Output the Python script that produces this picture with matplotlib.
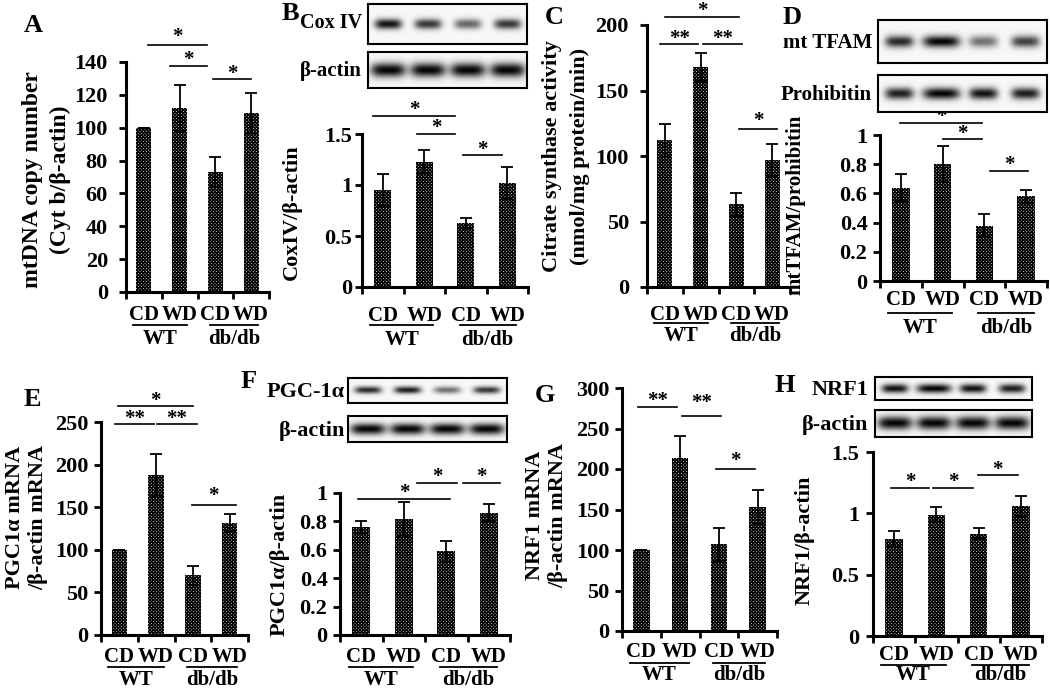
import numpy as np
import matplotlib
matplotlib.use("Agg")
import matplotlib.pyplot as plt
from matplotlib import transforms

plt.rcParams['font.family'] = ['Liberation Serif', 'DejaVu Serif']
plt.rcParams['font.weight'] = 'bold'
plt.rcParams['hatch.linewidth'] = 1.0
plt.rcParams['hatch.color'] = 'black'

W, H = 1050, 689

# ---------------- data ----------------
diet = ['CD', 'WD', 'CD', 'WD']
strain = ['WT', 'db/db']

A_vals = [100, 112, 73, 109]
A_err = [0, 14, 9, 12]
A_ticks = [0, 20, 40, 60, 80, 100, 120, 140]
A_sig = [(0.62, 2.27, 150.3, '*', 2), (1.22, 2.27, 137.5, '*', 0), (2.43, 3.5, 129.5, '*', 0)]

B_vals = [0.95, 1.23, 0.63, 1.02]
B_err = [0.16, 0.11, 0.05, 0.16]
B_ticks = [0, 0.5, 1, 1.5]
B_sig = [(0.27, 2.25, 1.68, '*', 0), (1.33, 2.25, 1.50, '*', 0), (2.44, 3.38, 1.29, '*', 0)]

C_vals = [112, 168, 63, 97]
C_err = [12.5, 10.5, 8.5, 12]
C_ticks = [0, 50, 100, 150, 200]
C_sig = [(0.51, 2.56, 206.4, '*', 0), (0.37, 1.43, 185.3, '**', 0),
         (1.57, 2.66, 185.3, '**', 0), (2.56, 3.65, 120.8, '*', 2)]

D_vals = [0.64, 0.80, 0.38, 0.58]
D_err = [0.095, 0.125, 0.08, 0.045]
D_ticks = [0, 0.2, 0.4, 0.6, 0.8, 1]
D_sig = [(0.48, 2.45, 1.084, '*', 0), (1.51, 2.45, 0.97, '*', 0), (2.64, 3.55, 0.755, '*', 0)]

E_vals = [100, 188, 70, 132]
E_err = [0, 25, 11, 10]
E_ticks = [0, 50, 100, 150, 200, 250]
E_sig = [(0.46, 2.5, 268.4, '*', 0), (0.38, 1.44, 247.3, '**', 0),
         (1.52, 2.6, 247.3, '**', 0), (2.47, 3.67, 152.4, '*', 3)]

F_vals = [0.76, 0.815, 0.59, 0.86]
F_err = [0.045, 0.12, 0.075, 0.06]
F_ticks = [0, 0.2, 0.4, 0.6, 0.8, 1]
F_sig = [(0.42, 2.59, 0.96, '*', 0), (1.81, 2.75, 1.07, '*', 0), (2.89, 3.76, 1.07, '*', 0)]

G_vals = [100, 214, 107, 153]
G_err = [0, 27, 20, 21]
G_ticks = [0, 50, 100, 150, 200, 250, 300]
G_sig = [(0.42, 1.42, 277, '**', 0), (1.55, 2.55, 266, '**', 7), (2.43, 3.43, 199.4, '*', 3)]

H_vals = [0.79, 0.99, 0.835, 1.06]
H_err = [0.065, 0.06, 0.045, 0.08]
H_ticks = [0, 0.5, 1, 1.5]
H_sig = [(0.43, 1.33, 1.21, '*', 0), (1.42, 2.37, 1.21, '*', 0), (2.48, 3.43, 1.31, '*', 0)]

# western blot band intensities (per lane)
B_blots = [("Cox IV", [0.95, 0.8, 0.6, 0.8], 0.13), ("β-actin", [1.0, 1.0, 1.0, 1.0], 0.2)]
D_blots = [("mt TFAM", [0.85, 1.0, 0.55, 0.75], 0.14), ("Prohibitin", [0.9, 1.0, 0.95, 0.9], 0.16)]
F_blots = [("PGC-1α", [0.85, 0.9, 0.55, 0.8], 0.14), ("β-actin", [1.0, 1.0, 1.0, 1.0], 0.22)]
H_blots = [("NRF1", [0.95, 1.0, 0.95, 0.9], 0.2), ("β-actin", [1.0, 1.0, 1.0, 1.0], 0.24)]

# ---------------- layout (pixel positions) ----------------
panels = [
    dict(letter='A', lpos=(33, 25), vals=A_vals, err=A_err, ticks=A_ticks, sig=A_sig,
         rect=(126, 269, 62, 292), pad=8, yfs=17,
         ylab=[("mtDNA copy number", 33), ("(Cyt b/β-actin)", 60)], ylc=180,
         rows=(315, 325, 339), blots=None),
    dict(letter='B', lpos=(290, 14), vals=B_vals, err=B_err, ticks=B_ticks, sig=B_sig,
         rect=(362, 528, 134, 287), pad=2, yfs=16,
         ylab=[("CoxIV/β-actin", 292)], ylc=212,
         rows=(316, 325, 340),
         blots=(B_blots, 368, 527, [(4, 44), (52, 88)], 362, [14.5, 15], [23, 71])),
    dict(letter='C', lpos=(554, 18), vals=C_vals, err=C_err, ticks=C_ticks, sig=C_sig,
         rect=(647, 790, 25, 287), pad=8, yfs=16,
         ylab=[("Citrate synthase activity", 552), ("(nmol/mg protein/min)", 580)], ylc=156,
         rows=(315, 323, 336), blots=None),
    dict(letter='D', lpos=(792, 17), vals=D_vals, err=D_err, ticks=D_ticks, sig=D_sig,
         rect=(880, 1047, 135, 281), pad=4, yfs=15,
         ylab=[("mtTFAM/prohibitin", 795)], ylc=205,
         rows=(300, 313, 328),
         blots=(D_blots, 878, 1047, [(20, 63), (75, 112)], 872, [15, 15], [43, 95])),
    dict(letter='E', lpos=(32, 400), vals=E_vals, err=E_err, ticks=E_ticks, sig=E_sig,
         rect=(101, 248, 422, 635), pad=4, yfs=16,
         ylab=[("PGC1α mRNA", 15), ("/β-actin mRNA", 38)], ylc=517,
         rows=(657, 667, 680), blots=None),
    dict(letter='F', lpos=(249, 381), vals=F_vals, err=F_err, ticks=F_ticks, sig=F_sig,
         rect=(340, 510, 493, 635), pad=4, yfs=16,
         ylab=[("PGC1α/β-actin", 280)], ylc=564,
         rows=(657, 667, 680),
         blots=(F_blots, 348, 507, [(378, 403), (416, 442)], 345, [16, 16], [392, 431])),
    dict(letter='G', lpos=(545, 396), vals=G_vals, err=G_err, ticks=G_ticks, sig=G_sig,
         rect=(622, 777, 388, 631), pad=4, yfs=16,
         ylab=[("NRF1 mRNA", 535), ("/β-actin mRNA", 558)], ylc=515,
         rows=(652, 663, 675), blots=None),
    dict(letter='H', lpos=(785, 385), vals=H_vals, err=H_err, ticks=H_ticks, sig=H_sig,
         rect=(873, 1042, 452, 636), pad=5, yfs=16,
         ylab=[("NRF1/β-actin", 805)], ylc=540,
         rows=(655, 665, 675),
         blots=(H_blots, 875, 1032, [(377, 400), (410, 437)], 868, [16, 16], [390, 425])),
]

fig = plt.figure(figsize=(W / 100, H / 100), dpi=100)


def fx(x):
    return x / W


def fy(y):
    return 1 - y / H


def px_rect(l, r, t, b):
    return [l / W, 1 - b / H, (r - l) / W, (b - t) / H]


def blot_image(intens, thick, nx=200, ny=50):
    xs = np.linspace(0, 1, nx)[None, :]
    ys = np.linspace(0, 1, ny)[:, None]
    dark = np.zeros((ny, nx))
    for i, a in enumerate(intens):
        cx = (2 * i + 1) / 8.0
        wx = 0.085 if a < 1.0 else 0.11
        dark += a * np.exp(-((xs - cx) / wx) ** 4) * np.exp(-((ys - 0.5) / thick) ** 2)
    return 1 - np.clip(dark, 0, 1) * 0.95 - 0.03


xs_bar = np.arange(4) + 0.5
for p in panels:
    l, r, t, b = p['rect']
    ax = fig.add_axes(px_rect(l, r, t, b))
    ymax = p['ticks'][-1]
    ax.bar(xs_bar, p['vals'], width=0.42, color='white', edgecolor='black', linewidth=0,
           hatch='x' * 10, zorder=2)
    ax.errorbar(xs_bar, p['vals'], yerr=p['err'], fmt='none', ecolor='black',
                elinewidth=1.3, capsize=4, capthick=1.3, zorder=3)
    ax.set_xlim(0, 4)
    ax.set_ylim(0, ymax)
    ax.set_xticks([0, 1, 2, 3, 4])
    ax.set_xticklabels([])
    ax.set_yticks(p['ticks'])
    ax.set_yticklabels([f"{v:g}" for v in p['ticks']], fontsize=16, fontweight='bold')
    ax.tick_params(axis='both', direction='out', length=5, width=2, pad=p['pad'])
    for s in ['top', 'right']:
        ax.spines[s].set_visible(False)
    for s in ['left', 'bottom']:
        ax.spines[s].set_linewidth(2.2)
    ax.patch.set_alpha(0)

    # significance bars
    for x1, x2, y, txt, dy in p['sig']:
        ax.plot([x1, x2], [y, y], color='black', lw=1.2, clip_on=False)
        ax.annotate(txt, xy=((x1 + x2) / 2, y), xytext=(0, 0.5 + dy * 0.72),
                    textcoords='offset points', ha='center', va='baseline', fontsize=15,
                    annotation_clip=False)

    # category labels
    tr = transforms.blended_transform_factory(ax.transData, fig.transFigure)
    rl, rline, rg = p['rows']
    for xi, lab in zip(xs_bar, diet):
        ax.text(xi, fy(rl), lab, transform=tr, ha='center', va='center', fontsize=15)
    for (x1, x2), xc, lab in zip([(0.2, 1.72), (2.35, 3.7)], [0.96, 3.02], strain):
        ax.plot([x1, x2], [fy(rline)] * 2, transform=tr, color='black', lw=1.3, clip_on=False)
        ax.text(xc, fy(rg), lab, transform=tr, ha='center', va='center', fontsize=15)

    # y labels
    for txt, xpos in p['ylab']:
        fig.text(fx(xpos), fy(p['ylc']), txt, rotation=90, ha='center', va='center',
                 fontsize=p['yfs'])

    # panel letter
    fig.text(fx(p['lpos'][0]), fy(p['lpos'][1]), p['letter'], ha='center', va='center',
             fontsize=19)

    # blots
    if p['blots'] is not None:
        specs, bl, br, ys, lab_r, lfs, lys = p['blots']
        for (name, intens, thick), (yt, yb), fs, ly in zip(specs, ys, lfs, lys):
            bax = fig.add_axes(px_rect(bl, br, yt, yb))
            bax.imshow(blot_image(intens, thick), cmap='gray', vmin=0, vmax=1,
                       aspect='auto', extent=(0, 1, 0, 1), interpolation='bilinear')
            bax.set_xticks([])
            bax.set_yticks([])
            for s in bax.spines.values():
                s.set_linewidth(1.5)
            fig.text(fx(lab_r), fy(ly), name, ha='right', va='center', fontsize=fs)

fig.savefig('out.png', dpi=100)
